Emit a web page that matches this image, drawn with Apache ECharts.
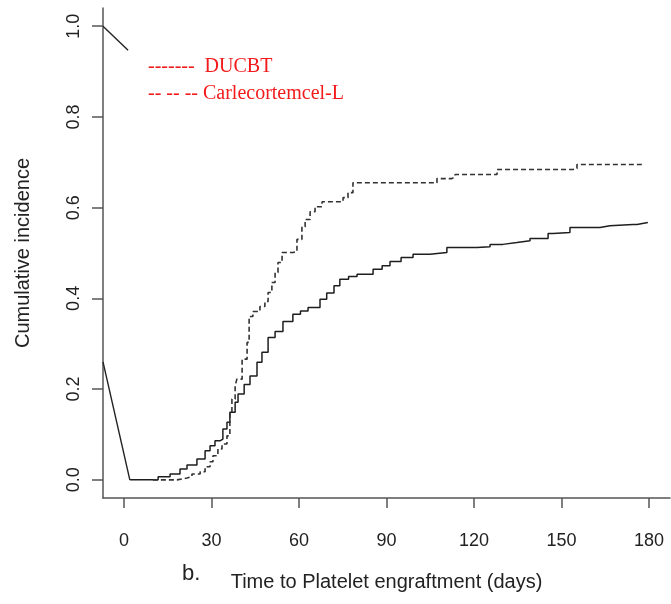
<!DOCTYPE html>
<html>
<head>
<meta charset="utf-8">
<script src="https://cdn.jsdelivr.net/npm/echarts@6/dist/echarts.min.js"></script>
<style>
  html, body { margin: 0; padding: 0; background: #fff; }
  #chart { width: 671px; height: 604px; }
</style>
</head>
<body>
<div id="chart"></div>
<script>
// tick positions
const xTicks = [0, 30, 60, 90, 120, 150, 180]
const yTicks = [0, 0.2, 0.4, 0.6, 0.8, 1.0]

// short stray segments at the left edge of the plot
const topStub = [[-7.2, 1.0], [1.4, 0.947]]
const lowStub = [[-7.2, 0.26], [2.0, 0]]

// DUCBT (solid) — [day, cumulative incidence]
const ducbt = [
  [2.0, 0], [11.0, 0], [11.7, 0.007], [15.8, 0.013], [19.2, 0.024], [21.6, 0.033],
  [25.0, 0.046], [27.8, 0.064], [29.5, 0.075], [31.2, 0.086], [32.9, 0.090],
  [33.9, 0.112], [35.3, 0.127], [36.3, 0.149], [38.1, 0.171], [39.1, 0.189],
  [41.2, 0.210], [43.2, 0.229], [45.6, 0.259], [47.3, 0.281], [49.4, 0.314], [51.8, 0.327],
  [54.5, 0.349], [57.9, 0.365], [60.5, 0.372], [63.1, 0.380], [67.2, 0.398], [69.5, 0.412],
  [72.0, 0.428], [74.0, 0.442], [77.0, 0.448],
  [79.9, 0.453], [85.4, 0.464], [88.5, 0.472], [91.2, 0.481], [95.0, 0.490], [99.1, 0.497], [104.9, 0.501],
  [110.7, 0.512], [121.0, 0.514], [125.5, 0.519], [129.9, 0.523], [134.7, 0.527],
  [139.2, 0.532], [145.4, 0.543], [147.1, 0.545], [152.9, 0.556], [160.8, 0.556],
  [163.2, 0.560], [166.6, 0.563], [174.5, 0.563], [175.9, 0.567], [179.6, 0.567]
]

// Carlecortemcel-L (dashed)
const carle = [
  [9.9, 0], [18.2, 0.004], [21.6, 0.007], [23.3, 0.013], [26.1, 0.018], [27.8, 0.029],
  [29.5, 0.040], [30.5, 0.053], [32.2, 0.068], [33.6, 0.079], [35.3, 0.097],
  [36.3, 0.149], [37.0, 0.178], [38.1, 0.207], [38.7, 0.222], [40.5, 0.266],
  [42.2, 0.303], [42.9, 0.360], [44.2, 0.371], [46.6, 0.382], [48.3, 0.393],
  [49.4, 0.413], [50.7, 0.435], [51.8, 0.457], [52.8, 0.479], [54.2, 0.501],
  [57.9, 0.503], [59.3, 0.530], [61.0, 0.558], [62.1, 0.574], [63.8, 0.591],
  [65.5, 0.602], [67.9, 0.613], [75.1, 0.622], [76.8, 0.633], [78.5, 0.655],
  [106.6, 0.655], [107.3, 0.664], [112.4, 0.668], [113.5, 0.673], [126.5, 0.673],
  [127.9, 0.684], [153.9, 0.686], [155.3, 0.695], [177.9, 0.697]
]

const axisColor = '#555'
const labelFont = { fontFamily: 'Liberation Sans', fontSize: 18, color: '#222' }

const chart = echarts.init(document.getElementById('chart'))
chart.setOption({
  animation: false,
  backgroundColor: '#fff',
  grid: { left: 103, right: 1, top: 8, bottom: 106 },
  xAxis: {
    type: 'value',
    min: -7.2,
    max: 187.2,
    name: 'Time to Platelet engraftment (days)',
    nameLocation: 'middle',
    nameGap: 74,
    nameTextStyle: { fontFamily: 'Liberation Sans', fontSize: 20, color: '#222' },
    axisLine: { show: true, onZero: false, lineStyle: { color: axisColor, width: 1.5 } },
    axisTick: { show: true, length: 10, customValues: xTicks, lineStyle: { color: axisColor, width: 1.5 } },
    axisLabel: { customValues: xTicks, margin: 34, ...labelFont },
    splitLine: { show: false }
  },
  yAxis: {
    type: 'value',
    min: -0.04,
    max: 1.04,
    name: 'Cumulative incidence',
    nameLocation: 'middle',
    nameGap: 70,
    nameTextStyle: { fontFamily: 'Liberation Sans', fontSize: 20, color: '#222' },
    axisLine: { show: true, onZero: false, lineStyle: { color: axisColor, width: 1.5 } },
    axisTick: { show: true, length: 11, customValues: yTicks, lineStyle: { color: axisColor, width: 1.5 } },
    axisLabel: {
      customValues: yTicks,
      rotate: 90,
      margin: 20,
      formatter: v => v.toFixed(1),
      ...labelFont
    },
    splitLine: { show: false }
  },
  graphic: [
    {
      type: 'text', left: 148, top: 57,
      style: { text: '-------  DUCBT', fill: '#f21a1a', font: '20px "Liberation Serif"' }
    },
    {
      type: 'text', left: 148, top: 84,
      style: { text: '-- -- -- Carlecortemcel-L', fill: '#f21a1a', font: '20px "Liberation Serif"' }
    },
    {
      type: 'text', left: 182, top: 563,
      style: { text: 'b.', fill: '#222', font: '22px "Liberation Sans"' }
    }
  ],
  series: [
    {
      type: 'line', data: topStub, symbol: 'none',
      lineStyle: { color: '#222', width: 1.4 }
    },
    {
      type: 'line', data: lowStub, symbol: 'none',
      lineStyle: { color: '#222', width: 1.4 }
    },
    {
      name: 'DUCBT', type: 'line', data: ducbt, step: 'end', symbol: 'none',
      lineStyle: { color: '#1e1e1e', width: 1.5 }
    },
    {
      name: 'Carlecortemcel-L', type: 'line', data: carle, step: 'end', symbol: 'none',
      lineStyle: { color: '#333', width: 1.6, type: [5, 3] }
    }
  ]
})
</script>
</body>
</html>
